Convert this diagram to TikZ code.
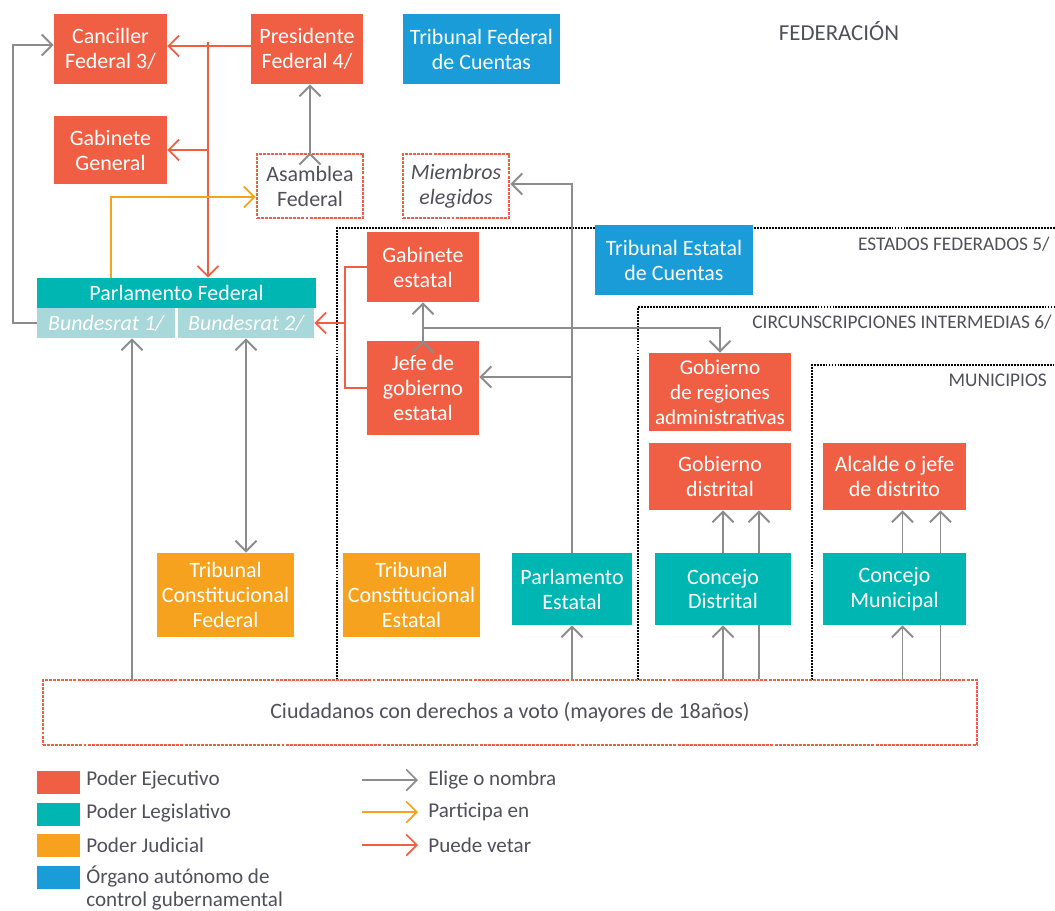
\documentclass[tikz,border=0pt]{standalone}
\usepackage{fontspec}
\setmainfont{Carlito}
\usetikzlibrary{arrows.meta}
\usepackage{xcolor}

\definecolor{ejecutivo}{RGB}{240,94,67}
\definecolor{legislativo}{RGB}{0,182,178}
\definecolor{judicial}{RGB}{247,162,30}
\definecolor{autonomo}{RGB}{26,156,216}
\definecolor{bundes}{RGB}{168,216,217}
\definecolor{flecha}{RGB}{140,140,140}
\definecolor{texto}{RGB}{80,80,90}

\tikzset{
  caja/.style={rectangle,inner sep=1pt,align=center,text=white,font=\fontsize{12.5}{14.2}\selectfont},
  ejec/.style={caja,fill=ejecutivo},
  legis/.style={caja,fill=legislativo},
  judic/.style={caja,fill=judicial},
  organo/.style={caja,fill=autonomo},
  punteada/.style={rectangle,draw=ejecutivo,line width=1.6pt,dash pattern=on 1.7pt off 0.6pt,
    align=center,text=texto,font=\fontsize{12.5}{14.2}\selectfont},
  region/.style={draw=black,line width=1.6pt,dash pattern=on 1.1pt off 0.6pt},
  etiqueta/.style={text=texto,font=\fontsize{11}{12}\selectfont,inner sep=0pt},
  ley/.style={rectangle,minimum width=0.86cm,minimum height=0.46cm,inner sep=0pt},
  leytexto/.style={text=texto,align=left,font=\fontsize{12}{13.6}\selectfont,inner sep=0pt,anchor=west}
}

\begin{document}
\begin{tikzpicture}[x=0.02cm,y=-0.02cm]
    \useasboundingbox (0,0) rectangle (1055,910);

    % niveles
    \draw[region] (337,680) -- (337,228) -- (1055,228);
    \draw[region] (638,680) -- (638,307) -- (1055,307);
    \draw[region] (812,680) -- (812,365) -- (1055,365);
    \node[etiqueta,font=\fontsize{13}{14}\selectfont] (federacion) at (839,31) {FEDERACIÓN};
    \node[etiqueta,anchor=east] (estados) at (1050,244) {ESTADOS FEDERADOS 5/};
    \node[etiqueta,anchor=east] (circuns) at (1052,322) {CIRCUNSCRIPCIONES INTERMEDIAS 6/};
    \node[etiqueta,anchor=east] (munic) at (1047,380) {MUNICIPIOS};

    % organos
    \node[ejec,minimum width=2.26cm,minimum height=1.4cm] (canciller) at (110.5,49) {Canciller\\Federal 3/};
    \node[ejec,minimum width=2.24cm,minimum height=1.4cm] (presidente) at (307,49) {Presidente\\Federal 4/};
    \node[organo,minimum width=3.14cm,minimum height=1.4cm] (tribfed) at (481.5,49) {Tribunal Federal\\de Cuentas};
    \node[ejec,minimum width=2.26cm,minimum height=1.36cm] (gabgen) at (110.5,150) {Gabinete\\General};
    \node[punteada,minimum width=2.12cm,minimum height=1.28cm] (asamblea) at (310,186) {Asamblea\\Federal};
    \node[punteada,minimum width=2.12cm,minimum height=1.28cm,font=\fontsize{12.5}{14.2}\selectfont\itshape] (miembros) at (456,186) {Miembros\\elegidos};

    \node[legis,minimum width=5.58cm,minimum height=0.6cm] (parlfed) at (176.5,293) {Parlamento Federal};
    \node[caja,fill=bundes,minimum width=2.76cm,minimum height=0.6cm,font=\fontsize{12.5}{14.2}\selectfont\itshape] (bund1) at (106,323) {Bundesrat 1/};
    \node[caja,fill=bundes,minimum width=2.72cm,minimum height=0.6cm,font=\fontsize{12.5}{14.2}\selectfont\itshape] (bund2) at (246,323) {Bundesrat 2/};

    \node[ejec,minimum width=2.24cm,minimum height=1.4cm] (gabest) at (423,267) {Gabinete\\estatal};
    \node[organo,minimum width=3.16cm,minimum height=1.4cm] (tribest) at (674,260) {Tribunal Estatal\\de Cuentas};
    \node[ejec,minimum width=2.24cm,minimum height=1.88cm] (jefe) at (423,388) {Jefe de\\gobierno\\estatal};
    \node[ejec,minimum width=2.84cm,minimum height=1.56cm,font=\fontsize{12}{14.2}\selectfont] (gobreg) at (720,392) {Gobierno\\de regiones\\administrativas};
    \node[ejec,minimum width=2.84cm,minimum height=1.34cm] (gobdist) at (720,476.5) {Gobierno\\distrital};
    \node[ejec,minimum width=2.86cm,minimum height=1.34cm] (alcalde) at (894.5,476.5) {Alcalde o jefe\\de distrito};

    \node[judic,minimum width=2.74cm,minimum height=1.68cm] (tcfed) at (225.5,595) {Tribunal\\Constitucional\\Federal};
    \node[judic,minimum width=2.74cm,minimum height=1.68cm] (tcest) at (411.5,595) {Tribunal\\Constitucional\\Estatal};
    \node[legis,minimum width=2.4cm,minimum height=1.44cm] (parlest) at (572,589) {Parlamento\\Estatal};
    \node[legis,minimum width=2.72cm,minimum height=1.44cm] (condist) at (723,589) {Concejo\\Distrital};
    \node[legis,minimum width=2.86cm,minimum height=1.44cm] (conmun) at (894.5,589) {Concejo\\Municipal};

    \node[punteada,minimum width=18.68cm,minimum height=1.3cm] (ciud) at (510,712.5) {Ciudadanos con derechos a voto (mayores de 18años)};

    % elige o nombra
    \begin{scope}[>={Straight Barb[length=6pt,width=12pt]},
        every path/.style={draw=flecha,line width=1.1pt}]
      \draw[->] (bund1.west) -- ++(-24,0) |- ([yshift=0.08cm]canciller.west);
      \path[->] (asamblea.north) edge (asamblea.north |- presidente.south);
      \draw[->] (parlest.north) |- ([yshift=0.04cm]miembros.east);
      \draw[->] ([yshift=0.22cm]jefe.east -| parlest.north) -- ([yshift=0.22cm]jefe.east);
      \path[->] (jefe.north) edge (gabest.south);
      \draw[->] ([yshift=0.26cm]jefe.north) -| (gobreg.north);
      \draw[->] ([xshift=0.52cm]bund1.south |- ciud.north) -- ([xshift=0.52cm]bund1.south);
      \draw[<->] (bund2.south) -- (bund2.south |- tcfed.north);
      \draw[->] (ciud.north -| parlest.south) -- (parlest.south);
      \draw[->] (ciud.north -| condist.south) -- (condist.south);
      \draw ([xshift=0.72cm]condist.south |- ciud.north) -- ([xshift=0.72cm]condist.south);
      \draw[->] (condist.north) -- (condist.north |- gobdist.south);
      \draw[->] ([xshift=0.72cm]condist.north) -- ([xshift=0.72cm]condist.north |- gobdist.south);
      \draw[<-] ([xshift=0.16cm]conmun.south) -- ++(0,55);
      \draw ([xshift=0.92cm]conmun.south) -- ++(0,55);
      \draw[->] ([xshift=0.16cm]conmun.north) -- ([xshift=0.16cm]conmun.north |- alcalde.south);
      \draw[->] ([xshift=0.92cm]conmun.north) -- ([xshift=0.92cm]conmun.north |- alcalde.south);
    \end{scope}

    % puede vetar / participa en
    \coordinate (vtop) at (208,42);
    \begin{scope}[>={Straight Barb[length=6pt,width=12pt]},
        every path/.style={draw=ejecutivo,line width=1pt}]
      \draw[->] ([yshift=0.06cm]presidente.west) -- ([yshift=0.06cm]canciller.east);
      \draw[->] (vtop) -- (vtop |- parlfed.north);
      \draw[->] (vtop |- gabgen.east) -- (gabgen.east);
      \draw (gabest.west) -- ++(-22,0) |- (jefe.west);
      \draw[->] ([xshift=-0.44cm]gabest.west |- bund2.east) -- (bund2.east);
      \draw[->,draw=judicial] ([xshift=-1.31cm]parlfed.north) |- ([yshift=-0.22cm]asamblea.west);
    \end{scope}

    % leyenda
    \node[ley,fill=ejecutivo] (lejec) at (58.5,782) {};
    \node[ley,fill=legislativo] (llegis) at (58.5,814.5) {};
    \node[ley,fill=judicial] (ljudic) at (58.5,845.5) {};
    \node[ley,fill=autonomo] (lorgano) at (58.5,877) {};
    \node[leytexto] (tejec) at (86,780) {Poder Ejecutivo};
    \node[leytexto] (tlegis) at (86,813) {Poder Legislativo};
    \node[leytexto] (tjudic) at (86,845) {Poder Judicial};
    \node[leytexto] (torgano) at (86,888) {Órgano autónomo de\\control gubernamental};
    \node[leytexto] (telige) at (428,780) {Elige o nombra};
    \node[leytexto] (tparti) at (428,812) {Participa en};
    \node[leytexto] (tveta) at (428,845) {Puede vetar};
    \begin{scope}[>={Straight Barb[length=6pt,width=12pt]},line width=1pt]
      \draw[->,flecha] ([xshift=-1.32cm]telige.west) -- ([xshift=-0.2cm]telige.west);
      \draw[->,judicial] ([xshift=-1.32cm]tparti.west) -- ([xshift=-0.2cm]tparti.west);
      \draw[->,ejecutivo] ([xshift=-1.32cm]tveta.west) -- ([xshift=-0.2cm]tveta.west);
    \end{scope}
\end{tikzpicture}
\end{document}
